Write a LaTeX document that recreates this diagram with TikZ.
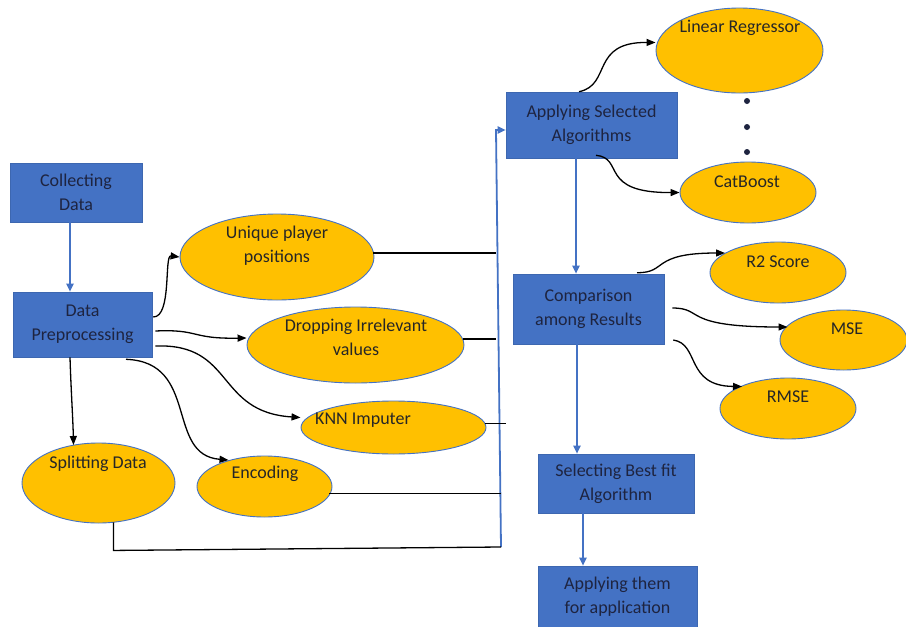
\documentclass[tikz,border=0pt]{standalone}
\usepackage{fontspec}
\setmainfont{Carlito}
\usetikzlibrary{arrows.meta,shapes.geometric,calc}
\definecolor{boxblue}{HTML}{4472C4}
\definecolor{ellyellow}{HTML}{FFC000}
\definecolor{boxtext}{HTML}{1E2440}
\begin{document}
\begin{tikzpicture}[x=1pt,y=-1pt,
  font=\fontsize{18}{24}\selectfont,
  procbox/.style={rectangle, fill=boxblue, draw=boxblue!90!black, line width=0.6pt, text=boxtext, align=center, inner sep=0pt},
  ellnode/.style={ellipse, fill=ellyellow, draw=boxblue, line width=0.9pt, inner sep=0pt},
  etext/.style={text=black!85, inner sep=0pt, align=center},
  blk/.style={black, line width=1.3pt, -{Triangle[length=9pt,width=7pt]}},
  blu/.style={boxblue, line width=1.8pt, -{Triangle[length=8pt,width=7pt]}},
  plainline/.style={black, line width=1.3pt},
  dotmark/.style={circle, fill=boxtext, inner sep=0pt, minimum size=6pt}
]
\useasboundingbox (0,0) rectangle (906,627);
\fill[white] (0,0) rectangle (906,627);

% process boxes
\node[procbox, minimum width=132pt, minimum height=59pt] (cd) at (76,192.5) {Collecting\\Data};
\node[procbox, minimum width=139pt, minimum height=65pt] (dp) at (82.5,324.5) {Data\\Preprocessing};
\node[procbox, minimum width=171pt, minimum height=66pt] (ap) at (591.5,125) {Applying Selected\\Algorithms};
\node[procbox, minimum width=151pt, minimum height=70pt] (cmp) at (588.5,309) {Comparison\\among Results};
\node[procbox, minimum width=156pt, minimum height=59pt] (sel) at (616,483.5) {Selecting Best fit\\Algorithm};
\node[procbox, minimum width=159pt, minimum height=61pt] (app) at (617.5,596.5) {Applying them\\for application};

% ellipses
\node[ellnode, minimum width=194pt, minimum height=86pt] (u) at (277,257) {};
\node[etext] (ut) at (277,245.5) {Unique player\\positions};
\node[ellnode, minimum width=217pt, minimum height=76pt] (dr) at (355.5,345) {};
\node[etext] (drt) at (356,337) {Dropping Irrelevant\\values};
\node[ellnode, minimum width=185pt, minimum height=53pt] (knn) at (393.5,427.5) {};
\node[etext] (knnt) at (363,420) {KNN Imputer};
\node[ellnode, minimum width=153pt, minimum height=80pt] (sp) at (98.5,483) {};
\node[etext] (spt) at (98,464) {Splitting Data};
\node[ellnode, minimum width=135pt, minimum height=61pt] (enc) at (264.5,486.5) {};
\node[etext] (enct) at (265,474) {Encoding};
\node[ellnode, minimum width=167pt, minimum height=85pt] (lr) at (739.5,50.5) {};
\node[etext] (lrt) at (740,28) {Linear Regressor};
\node[ellnode, minimum width=136pt, minimum height=61pt] (cb) at (748,192.5) {};
\node[etext] (cbt) at (747,182) {CatBoost};
\node[ellnode, minimum width=136pt, minimum height=61pt] (r2) at (778,272.5) {};
\node[etext] (r2t) at (778,262) {R2 Score};
\node[ellnode, minimum width=127pt, minimum height=60pt] (mse) at (843.5,340) {};
\node[etext] (mset) at (847,329) {MSE};
\node[ellnode, minimum width=136pt, minimum height=61pt] (rmse) at (788,408.5) {};
\node[etext] (rmset) at (788,397) {RMSE};

% dots
\node[dotmark] (d1) at (747,101) {};
\node[dotmark] (d2) at (747,127) {};
\node[dotmark] (d3) at (747,152) {};

% blue flow arrows
\draw[blu] ($(cd.south)+(-6,0)$) -- ($(dp.north)+(-12.5,0)$);
\draw[blu] ($(ap.south)+(-15.5,0)$) -- ($(cmp.north)+(-12.5,0)$);
\draw[blu] ($(cmp.south)+(-11.5,0)$) -- ($(sel.north)+(-39,0)$);
\draw[blu] ($(sel.south)+(-33,0)$) -- ($(app.north)+(-34.5,0)$);

% bus into Applying Selected Algorithms
\coordinate (busB) at (501,547);
\coordinate (busT) at (496,130);
\draw[blu] (busB) -- (busT) -- (busT -| ap.west);

% lines from preprocessing results to bus
\coordinate (uE) at ($(u.east)+(-1,-4)$);
\coordinate (drE) at ($(dr.east)+(-1,-6)$);
\coordinate (knnE) at ($(knn.east)+(-1,-4)$);
\coordinate (encE) at ($(enc.east)+(-3,7)$);
\coordinate (spS) at ($(sp.south)+(15,-1)$);
\draw[plainline] (uE) -- (uE -| busT);
\draw[plainline] (drE) -- (drE -| busT);
\draw[plainline] (knnE) -- ++(21,0);
\draw[plainline] (encE) -- (encE -| busB);
\draw[plainline] (spS) -- ++(0,28) -- (busB);

% preprocessing branches
\draw[blk] ($(dp.east)+(1,-7.5)$) .. controls (172,317) and (164,255) .. (u.west);
\draw[blk] ($(dp.east)+(3,6.5)$) .. controls (200,329) and (190,339) .. ($(dr.west)+(0,-7)$);
\draw[blk] ($(dp.east)+(3,21.5)$) .. controls (235,343) and (215,412) .. ($(knn.west)+(0,-10)$);
\draw[blk] ($(dp.south)+(43.5,2)$) .. controls (200,362) and (165,455) .. ($(enc.center)+(-36,-26.5)$);
\draw[blk] ($(dp.south)+(-12.5,0)$) .. controls (71,390) and (73,420) .. ($(sp.center)+(-25,-38)$);

% algorithm branches
\draw[blk] ($(ap.north)+(-12.5,0)$) .. controls (612,85) and (590,42) .. ($(lr.west)+(0,-8)$);
\draw[blk] ($(ap.south)+(4.5,-3)$) .. controls (625,158) and (598,193) .. (cb.west);

% comparison branches
\draw[blk] ($(cmp.north)+(48.5,-1)$) .. controls (668,273) and (650,253) .. ($(r2.center)+(-53,-19.5)$);
\draw[blk] ($(cmp.east)+(8,-1)$) .. controls (705,308) and (680,327) .. ($(mse.center)+(-56,-13)$);
\draw[blk] ($(cmp.east)+(9,31)$) .. controls (700,344) and (685,386) .. ($(rmse.center)+(-46,-22)$);
\end{tikzpicture}
\end{document}
